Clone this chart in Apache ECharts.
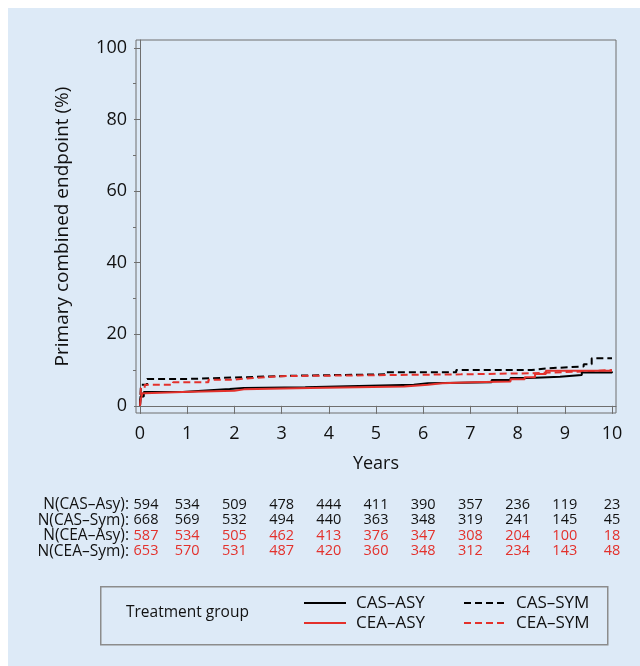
<!DOCTYPE html>
<html><head><meta charset="utf-8">
<script src="https://cdn.jsdelivr.net/npm/echarts@6/dist/echarts.min.js"></script>
<style>
html,body{margin:0;padding:0;background:#fff;}
#bg{position:absolute;left:8px;top:8px;width:632px;height:658px;background:#ddeaf7;}
#c{position:absolute;left:0;top:0;width:640px;height:666px;}
</style>
</head><body><div id="bg"></div><div id="c"></div>
<script>
// Kaplan-Meier style cumulative incidence (%)
const casAsyT = [0, 0.01, 0.08, 0.9, 1.4, 1.9, 2.2, 3.5, 4.4, 5.8, 6.1, 7.45, 7.85, 8.25, 8.9, 9.36, 10.0];
const casAsyV = [0, 2.6, 3.9, 4.3, 4.7, 5.0, 5.2, 5.5, 5.9, 6.3, 6.6, 7.2, 7.8, 8.1, 8.6, 9.3, 9.6];
const casSymT = [0, 0.02, 0.15, 1.0, 2.2, 3.2, 5.2, 6.7, 8.3, 8.65, 9.4, 9.57, 10.0];
const casSymV = [0, 5.9, 7.5, 8.0, 8.4, 8.8, 9.4, 10.0, 10.5, 11.0, 11.6, 13.3, 13.3];
const ceaAsyT = [0, 0.01, 0.05, 0.1, 0.9, 2.0, 2.2, 3.6, 5.6, 6.1, 6.4, 7.05, 7.85, 8.15, 8.37, 8.6, 10.0];
const ceaAsyV = [0, 1.5, 3.5, 3.9, 4.2, 4.6, 5.0, 5.4, 5.9, 6.3, 6.6, 6.8, 7.4, 8.0, 8.9, 9.8, 9.8];
const ceaSymT = [0, 0.02, 0.1, 0.7, 1.45, 1.95, 2.4, 3.0, 6.8, 8.25, 9.4, 10.0];
const ceaSymV = [0, 5.0, 5.9, 6.6, 7.3, 7.8, 8.3, 8.8, 9.1, 9.6, 10.0, 10.0];

const xTicks = [0, 1, 2, 3, 4, 5, 6, 7, 8, 9, 10];
const yTicks = [0, 20, 40, 60, 80, 100];
const yMinorTicks = [10, 30, 50, 70, 90];

const riskRows = ['N(CAS–Asy):', 'N(CAS–Sym):', 'N(CEA–Asy):', 'N(CEA–Sym):'];
const riskYears = [0, 1, 2, 3, 4, 5, 6, 7, 8, 9, 10];
const nCasAsy = [594, 534, 509, 478, 444, 411, 390, 357, 236, 119, 23];
const nCasSym = [668, 569, 532, 494, 440, 363, 348, 319, 241, 145, 45];
const nCeaAsy = [587, 534, 505, 462, 413, 376, 347, 308, 204, 100, 18];
const nCeaSym = [653, 570, 531, 487, 420, 360, 348, 312, 234, 143, 48];

const FONT = 'Open Sans';
const BLACK = '#000000';
const RED = '#e3312c';
const AX = '#6f6f6f';

function zip(t, v) { return t.map((x, i) => [x, v[i]]); }

function kmSeries(name, t, v, color, type) {
  return {
    name, type: 'line', xAxisIndex: 0, yAxisIndex: 0, step: 'end', symbol: 'none',
    data: zip(t, v), silent: true, animation: false,
    lineStyle: { color, width: 2, type: type === 'dashed' ? [7, 4] : 'solid' },
    itemStyle: { color }
  };
}

function riskSeries(row, values, color) {
  return {
    type: 'custom', xAxisIndex: 1, yAxisIndex: 2, silent: true, animation: false,
    data: riskYears.map((yr, i) => [yr, row, values[i]]),
    renderItem: function (params, api) {
      const p = api.coord([api.value(0), api.value(1)]);
      const shift = params.dataIndex === 0 ? 6 : 0;
      return {
        type: 'text',
        x: p[0] + shift, y: p[1],
        style: {
          text: String(api.value(2)), fill: color,
          font: '14.5px "' + FONT + '"', align: 'center', verticalAlign: 'middle'
        }
      };
    }
  };
}

const legendCommon = {
  orient: 'vertical', top: 593,
  itemWidth: 42, itemHeight: 10, itemGap: 0, padding: 0, selectedMode: false,
  itemStyle: { opacity: 0 },
  textStyle: { fontSize: 17, fontFamily: FONT, color: '#111', lineHeight: 20, padding: [0, 0, 0, 5] }
};

const chart = echarts.init(document.getElementById('c'), null, { renderer: 'canvas' });
chart.setOption({
  backgroundColor: 'transparent',
  animation: false,
  grid: [
    { left: 136, top: 40, width: 480, height: 373, show: true, borderColor: AX, borderWidth: 1, backgroundColor: 'transparent' },
    { left: 136, top: 497, width: 480, height: 62 }
  ],
  xAxis: [
    {
      type: 'value', gridIndex: 0, min: -0.085, max: 10.085,
      name: 'Years', nameLocation: 'middle', nameGap: 42,
      nameTextStyle: { fontSize: 18, fontFamily: FONT, color: '#111' },
      axisLine: { show: true, lineStyle: { color: AX, width: 1 } },
      axisTick: { show: true, length: 8, lineStyle: { color: AX }, customValues: xTicks },
      axisLabel: { fontSize: 18, fontFamily: FONT, color: '#111', margin: 12, customValues: xTicks },
      splitLine: { show: false }
    },
    {
      type: 'value', gridIndex: 1, min: -0.085, max: 10.085, show: false
    }
  ],
  yAxis: [
    {
      type: 'value', gridIndex: 0, min: -2, max: 102.2,
      name: 'Primary combined endpoint (%)', nameLocation: 'middle', nameGap: 64,
      nameTextStyle: { fontSize: 19, fontFamily: FONT, color: '#111' },
      axisLine: { show: true, lineStyle: { color: AX, width: 1 } },
      axisTick: { show: true, length: 6, lineStyle: { color: AX }, customValues: yTicks },
      axisLabel: { fontSize: 18, fontFamily: FONT, color: '#111', margin: 9, customValues: yTicks },
      splitLine: { show: false }
    },
    {
      type: 'value', gridIndex: 0, min: -2, max: 102.2, position: 'left',
      axisLine: { show: false },
      axisTick: { show: true, length: 3, lineStyle: { color: AX }, customValues: yMinorTicks },
      axisLabel: { show: false },
      splitLine: { show: false }
    },
    {
      type: 'category', gridIndex: 1, data: riskRows, inverse: true,
      axisLine: { show: false }, axisTick: { show: false },
      axisLabel: { fontSize: 15.5, fontFamily: FONT, color: '#111', margin: 7, interval: 0 },
      splitLine: { show: false }
    }
  ],
  legend: [
    Object.assign({ data: ['CAS–ASY', 'CEA–ASY'], left: 303 }, legendCommon),
    Object.assign({ data: ['CAS–SYM', 'CEA–SYM'], left: 463 }, legendCommon)
  ],
  graphic: [
    { type: 'rect', left: 100, top: 586, shape: { width: 507, height: 58 }, style: { fill: 'transparent', stroke: '#8c8c8c', lineWidth: 1.5 }, silent: true, z: -1 },
    { type: 'text', left: 126, top: 605, style: { text: 'Treatment group', fontSize: 15.5, fontFamily: FONT, fill: '#111' }, silent: true }
  ],
  series: [
    kmSeries('CAS–SYM', casSymT, casSymV, BLACK, 'dashed'),
    kmSeries('CEA–SYM', ceaSymT, ceaSymV, RED, 'dashed'),
    kmSeries('CAS–ASY', casAsyT, casAsyV, BLACK, 'solid'),
    kmSeries('CEA–ASY', ceaAsyT, ceaAsyV, RED, 'solid'),
    riskSeries(riskRows[0], nCasAsy, '#111'),
    riskSeries(riskRows[1], nCasSym, '#111'),
    riskSeries(riskRows[2], nCeaAsy, RED),
    riskSeries(riskRows[3], nCeaSym, RED)
  ]
});
</script></body></html>
